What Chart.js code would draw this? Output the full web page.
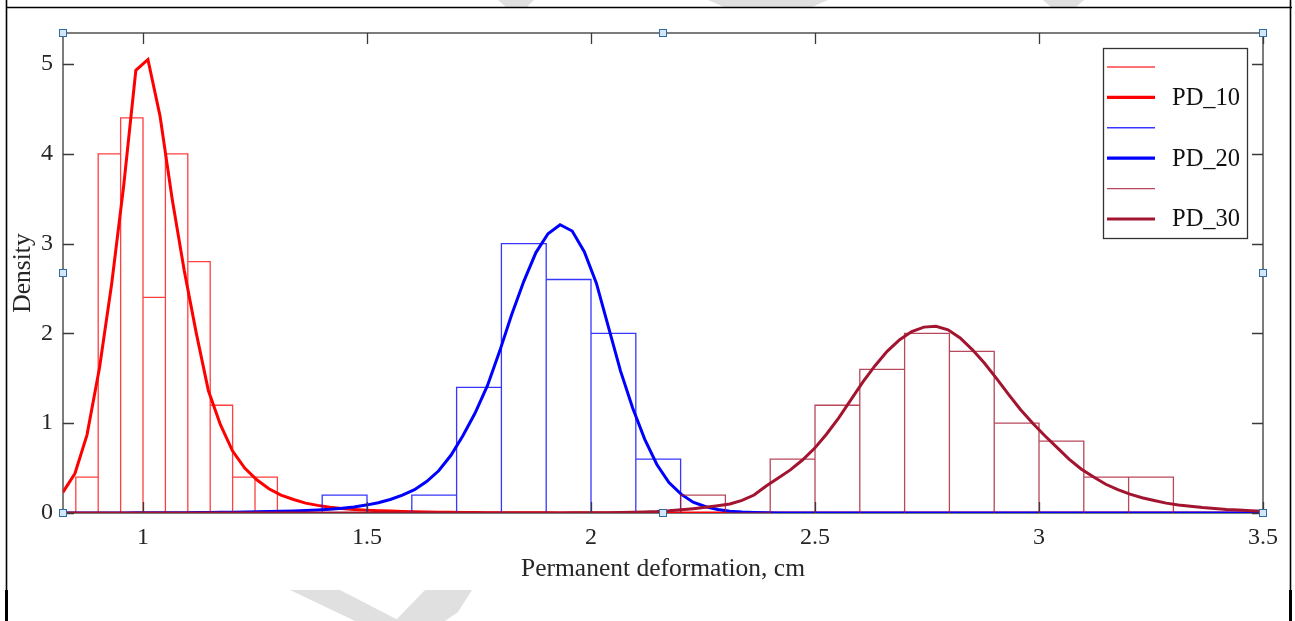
<!DOCTYPE html>
<html>
<head>
<meta charset="utf-8">
<script src="https://cdn.jsdelivr.net/npm/chart.js@4.4.0/dist/chart.umd.min.js"></script>
<style>
  html, body { margin: 0; padding: 0; background: #fff; overflow: hidden; }
  #wrap { position: relative; width: 1295px; height: 621px; }
</style>
</head>
<body>
<div id="wrap"><canvas id="c" width="1295" height="621"></canvas></div>
<script>
// ---- Histogram bins (density) ----
const pd10Edges   = [0.85, 0.90, 0.95, 1.00, 1.05, 1.10, 1.15, 1.20, 1.25, 1.30];
const pd10Density = [0.4, 4.0, 4.4, 2.4, 4.0, 2.8, 1.2, 0.4, 0.4];

const pd20Edges   = [1.4, 1.5, 1.6, 1.7, 1.8, 1.9, 2.0, 2.1, 2.2];
const pd20Density = [0.2, 0.0, 0.2, 1.4, 3.0, 2.6, 2.0, 0.6];

const pd30Edges   = [2.2, 2.3, 2.4, 2.5, 2.6, 2.7, 2.8, 2.9, 3.0, 3.1, 3.2, 3.3];
const pd30Density = [0.2, 0.0, 0.6, 1.2, 1.6, 2.0, 1.8, 1.0, 0.8, 0.4, 0.4];

// ---- Fitted density curves, sampled on a common grid ----
const fitX = [
  0.821, 0.848, 0.875, 0.903, 0.930, 0.957, 0.984, 1.011, 1.038, 1.065,
  1.092, 1.119, 1.146, 1.173, 1.200, 1.227, 1.254, 1.281, 1.308, 1.336,
  1.363, 1.390, 1.417, 1.444, 1.471, 1.498, 1.525, 1.552, 1.579, 1.606,
  1.633, 1.660, 1.687, 1.714, 1.741, 1.769, 1.796, 1.823, 1.850, 1.877,
  1.904, 1.931, 1.958, 1.985, 2.012, 2.039, 2.066, 2.093, 2.120, 2.147,
  2.174, 2.201, 2.228, 2.256, 2.283, 2.310, 2.337, 2.364, 2.391, 2.418,
  2.445, 2.472, 2.499, 2.526, 2.553, 2.580, 2.607, 2.634, 2.661, 2.689,
  2.716, 2.743, 2.770, 2.797, 2.824, 2.851, 2.878, 2.905, 2.932, 2.959,
  2.986, 3.013, 3.040, 3.067, 3.094, 3.122, 3.149, 3.176, 3.203, 3.230,
  3.257, 3.284, 3.311, 3.338, 3.365, 3.392, 3.419, 3.446, 3.473, 3.500
];

const pd10Fit = [
  0.23, 0.44, 0.87, 1.62, 2.55, 3.65, 4.93, 5.05, 4.42, 3.50,
  2.70, 2.00, 1.36, 0.98, 0.69, 0.50, 0.37, 0.27, 0.20, 0.15,
  0.11, 0.085, 0.065, 0.05, 0.04, 0.032, 0.026, 0.021, 0.017, 0.014,
  0.011, 0.009, 0.008, 0.006, 0.005, 0.004, 0.003, 0.003, 0.002, 0.002,
  0.002, 0.001, 0.001, 0.001, 0.001, 0, 0, 0, 0, 0,
  0, 0, 0, 0, 0, 0, 0, 0, 0, 0,
  0, 0, 0, 0, 0, 0, 0, 0, 0, 0,
  0, 0, 0, 0, 0, 0, 0, 0, 0, 0,
  0, 0, 0, 0, 0, 0, 0, 0, 0, 0,
  0, 0, 0, 0, 0, 0, 0, 0, 0, 0
];

const pd20Fit = [
  0, 0, 0, 0.001, 0.001, 0.001, 0.002, 0.002, 0.003, 0.003,
  0.004, 0.005, 0.006, 0.007, 0.009, 0.011, 0.013, 0.016, 0.019, 0.023,
  0.028, 0.034, 0.042, 0.053, 0.068, 0.088, 0.115, 0.15, 0.20, 0.26,
  0.35, 0.47, 0.64, 0.86, 1.11, 1.42, 1.80, 2.21, 2.58, 2.90,
  3.11, 3.21, 3.14, 2.91, 2.56, 2.07, 1.58, 1.17, 0.82, 0.54,
  0.34, 0.21, 0.12, 0.07, 0.04, 0.02, 0.01, 0.005, 0.002, 0.001,
  0, 0, 0, 0, 0, 0, 0, 0, 0, 0,
  0, 0, 0, 0, 0, 0, 0, 0, 0, 0,
  0, 0, 0, 0, 0, 0, 0, 0, 0, 0,
  0, 0, 0, 0, 0, 0, 0, 0, 0, 0
];

const pd30Fit = [
  0, 0, 0, 0, 0, 0, 0, 0, 0, 0,
  0, 0, 0, 0, 0, 0, 0, 0, 0, 0,
  0, 0, 0, 0, 0, 0, 0, 0, 0, 0,
  0, 0, 0, 0, 0, 0, 0, 0, 0, 0,
  0.001, 0.001, 0.002, 0.002, 0.003, 0.004, 0.006, 0.008, 0.011, 0.016,
  0.024, 0.035, 0.048, 0.063, 0.08, 0.10, 0.14, 0.20, 0.30, 0.39,
  0.48, 0.59, 0.72, 0.88, 1.06, 1.26, 1.46, 1.64, 1.80, 1.93,
  2.02, 2.07, 2.08, 2.04, 1.95, 1.82, 1.67, 1.50, 1.32, 1.15,
  1.00, 0.86, 0.73, 0.60, 0.49, 0.40, 0.32, 0.26, 0.21, 0.17,
  0.14, 0.11, 0.09, 0.075, 0.06, 0.05, 0.04, 0.033, 0.026, 0.02
];

// ---- Axis ticks and labels ----
const xTicks = [1, 1.5, 2, 2.5, 3, 3.5];
const xTickLabels = ['1', '1.5', '2', '2.5', '3', '3.5'];
const yTicks = [0, 1, 2, 3, 4, 5];
const yTickLabels = ['0', '1', '2', '3', '4', '5'];
const xRange = [0.8214, 3.5];
const yRange = [0, 5.345];
const seriesNames = ['PD_10', 'PD_20', 'PD_30'];
const xTitle = 'Permanent deformation, cm';
const yTitle = 'Density';

const FONT = "'Liberation Serif', 'Times New Roman', Times, serif";
const TEXT = '#262626';

// Bar outlines as one polyline: up each left edge, across the top, down the right edge.
function histOutline(edges, heights) {
  const pts = [{ x: edges[0], y: 0 }];
  heights.forEach((h, i) => {
    pts.push({ x: edges[i], y: h });
    pts.push({ x: edges[i + 1], y: h });
    pts.push({ x: edges[i + 1], y: 0 });
  });
  return pts;
}
function curve(ys) {
  return fitX.map((x, i) => ({ x, y: ys[i] }));
}

const histStyle = (color, order) => ({
  type: 'line', borderColor: color, borderWidth: 1.3, pointRadius: 0,
  tension: 0, fill: false, order, legendWidth: 1.4
});
const fitStyle = (color, order) => ({
  type: 'line', borderColor: color, borderWidth: 3, pointRadius: 0,
  tension: 0, fill: false, order, legendWidth: 3.2
});

const datasets = [
  Object.assign({ label: '', data: histOutline(pd10Edges, pd10Density) }, histStyle('rgba(255,30,30,0.85)', 6)),
  Object.assign({ label: seriesNames[0], data: curve(pd10Fit) }, fitStyle('#ff0000', 5)),
  Object.assign({ label: '', data: histOutline(pd20Edges, pd20Density) }, histStyle('rgba(20,20,255,0.85)', 4)),
  Object.assign({ label: seriesNames[1], data: curve(pd20Fit) }, fitStyle('#0000ff', 3)),
  Object.assign({ label: '', data: histOutline(pd30Edges, pd30Density) }, histStyle('rgba(165,25,50,0.8)', 2)),
  Object.assign({ label: seriesNames[2], data: curve(pd30Fit) }, fitStyle('#a2142f', 1))
];

const figureDecor = {
  id: 'figureDecor',
  beforeDraw(chart) {
    const ctx = chart.ctx;
    ctx.save();
    ctx.fillStyle = '#ffffff';
    ctx.fillRect(0, 0, chart.width, chart.height);
    // faint page stamp bands showing in the margins
    ctx.fillStyle = '#e0e0e0';
    const bands = [
      [[498, 0], [534, 0], [527, 7], [506, 7]],
      [[708, 0], [828, 0], [812, 7], [724, 7]],
      [[1043, 0], [1084, 0], [1076, 7], [1051, 7]],
      [[290, 590], [340, 590], [400, 621], [355, 621]],
      [[425, 590], [472, 590], [458, 612], [445, 621], [395, 621]]
    ];
    bands.forEach(poly => {
      ctx.beginPath();
      poly.forEach(([px, py], k) => k ? ctx.lineTo(px, py) : ctx.moveTo(px, py));
      ctx.closePath();
      ctx.fill();
    });
    // frame around the figure
    ctx.strokeStyle = '#000';
    ctx.lineWidth = 1.6;
    ctx.beginPath();
    ctx.moveTo(6, 7.5); ctx.lineTo(1292, 7.5);
    ctx.moveTo(6.5, 0); ctx.lineTo(6.5, 621);
    ctx.moveTo(1290.5, 0); ctx.lineTo(1290.5, 621);
    ctx.stroke();
    ctx.fillStyle = '#000';
    ctx.fillRect(5, 590, 3, 31);
    ctx.fillRect(1289, 590, 3, 31);
    ctx.restore();
  },
  beforeDatasetsDraw(chart) {
    const { ctx, chartArea: a } = chart;
    ctx.save();
    ctx.strokeStyle = '#5c5c5c';
    ctx.lineWidth = 1.6;
    ctx.strokeRect(a.left, a.top, a.right - a.left, a.bottom - a.top);
    ctx.restore();
  },
  afterDatasetsDraw(chart) {
    const { ctx, chartArea: a, scales } = chart;
    ctx.save();
    // inward ticks on all four sides
    ctx.strokeStyle = '#3a3a3a';
    ctx.lineWidth = 1.3;
    const tl = 11;
    ctx.beginPath();
    xTicks.forEach(v => {
      const px = Math.round(scales.x.getPixelForValue(v)) + 0.5;
      ctx.moveTo(px, a.bottom); ctx.lineTo(px, a.bottom - tl);
      ctx.moveTo(px, a.top); ctx.lineTo(px, a.top + tl);
    });
    yTicks.forEach(v => {
      const py = Math.round(scales.y.getPixelForValue(v)) + 0.5;
      ctx.moveTo(a.left, py); ctx.lineTo(a.left + tl, py);
      ctx.moveTo(a.right, py); ctx.lineTo(a.right - tl, py);
    });
    ctx.stroke();

    // legend box inside the axes, top right
    const box = { x: 1103, y: 48, w: 144, h: 190 };
    ctx.fillStyle = '#ffffff';
    ctx.fillRect(box.x, box.y, box.w, box.h);
    ctx.strokeStyle = '#333333';
    ctx.lineWidth = 1.3;
    ctx.strokeRect(box.x + 0.5, box.y + 0.5, box.w, box.h);
    ctx.font = '24.5px ' + FONT;
    ctx.textAlign = 'left';
    ctx.textBaseline = 'middle';
    chart.data.datasets.forEach((ds, k) => {
      const ry = 67 + k * 30.4;
      ctx.strokeStyle = ds.borderColor;
      ctx.lineWidth = ds.legendWidth;
      ctx.beginPath();
      ctx.moveTo(1107, ry); ctx.lineTo(1155, ry);
      ctx.stroke();
      if (ds.label) {
        ctx.fillStyle = '#111111';
        ctx.fillText(ds.label, 1172, ry + 1);
      }
    });

    // selection handles around the axes
    const mx = (a.left + a.right) / 2, my = (a.top + a.bottom) / 2;
    const handles = [
      [a.left, a.top], [mx, a.top], [a.right, a.top],
      [a.left, my], [a.right, my],
      [a.left, a.bottom], [mx, a.bottom], [a.right, a.bottom]
    ];
    handles.forEach(([hx, hy]) => {
      const rx = Math.round(hx) - 3.5, ryy = Math.round(hy) - 3.5;
      ctx.fillStyle = '#d4e5f6';
      ctx.fillRect(rx, ryy, 7, 7);
      ctx.strokeStyle = '#2e6da4';
      ctx.lineWidth = 1;
      ctx.strokeRect(rx, ryy, 7, 7);
    });
    ctx.restore();
  }
};

new Chart(document.getElementById('c'), {
  type: 'line',
  data: { datasets },
  options: {
    responsive: false,
    devicePixelRatio: 1,
    animation: false,
    events: [],
    layout: { padding: { left: 0, top: 33, right: 32, bottom: 0 } },
    plugins: { legend: { display: false }, tooltip: { enabled: false } },
    scales: {
      x: {
        type: 'linear',
        min: xRange[0], max: xRange[1],
        grid: { display: false, drawTicks: false },
        border: { display: false },
        afterBuildTicks: s => { s.ticks = xTicks.map(v => ({ value: v })); },
        afterFit: s => { s.height = 108; },
        ticks: {
          color: TEXT, padding: 10, maxRotation: 0, font: { family: FONT, size: 24 },
          callback: (v, i) => xTickLabels[i]
        },
        title: { display: true, text: xTitle, color: TEXT, padding: { bottom: 36, top: 0 },
                 font: { family: FONT, size: 25.5 } }
      },
      y: {
        type: 'linear',
        min: yRange[0], max: yRange[1],
        grid: { display: false, drawTicks: false },
        border: { display: false },
        afterBuildTicks: s => { s.ticks = yTicks.map(v => ({ value: v })); },
        afterFit: s => { s.width = 63; },
        ticks: {
          color: TEXT, padding: 10, font: { family: FONT, size: 24 },
          callback: (v, i) => yTickLabels[i]
        },
        title: { display: true, text: yTitle, color: TEXT, padding: { top: 7.5, bottom: 0 },
                 font: { family: FONT, size: 25.5 } }
      }
    }
  },
  plugins: [figureDecor]
});
</script>
</body>
</html>
